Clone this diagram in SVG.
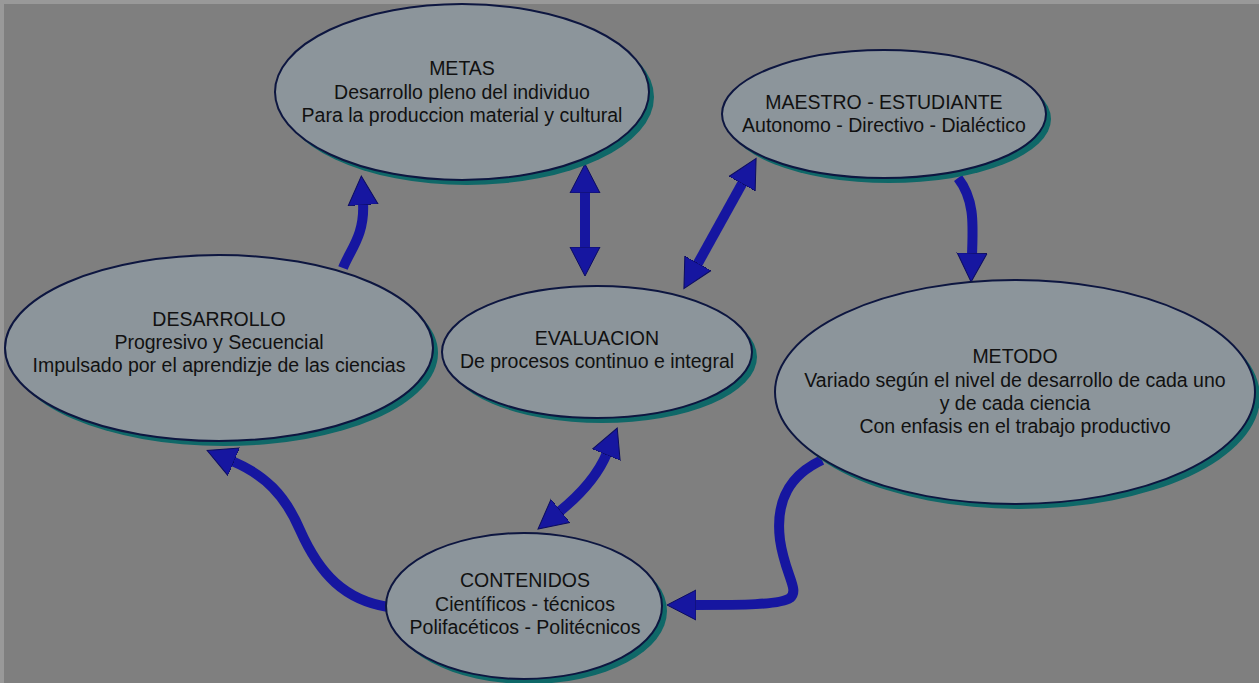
<svg xmlns="http://www.w3.org/2000/svg" width="1259" height="683" viewBox="0 0 1259 683">
<defs>
<style>
.bg{fill:#7f7f7f}
.sh{fill:#0f6868}
.el{fill:#8c959b;stroke:#0d1640;stroke-width:2}
.t{font-family:"Liberation Sans",Arial,sans-serif;font-size:19.5px;fill:#111;text-anchor:middle}
.c{fill:none;stroke:#1616a0;stroke-width:10;stroke-linecap:butt}
</style>
<marker id="ah" markerUnits="userSpaceOnUse" markerWidth="32" markerHeight="32" viewBox="0 0 32 32" refX="2" refY="16" orient="auto-start-reverse">
<path d="M0,1 L29,16 L0,31 Z" fill="#1616a0" stroke="#0c0c60" stroke-width="1"/>
</marker>
</defs>
<rect class="bg" x="0" y="0" width="1259" height="683"/>
<rect x="0" y="0" width="1259" height="4" fill="#999"/>
<rect x="0" y="0" width="4" height="683" fill="#999"/>

<g id="connectors">
<path class="c" d="M343,268 C350,250 365,235 363,203" marker-end="url(#ah)"/>
<path class="c" d="M585,191 L585,249" marker-start="url(#ah)" marker-end="url(#ah)"/>
<path class="c" d="M697,265 L743,182" marker-start="url(#ah)" marker-end="url(#ah)"/>
<path class="c" d="M958,178 C975,200 973,225 972,255" marker-end="url(#ah)"/>
<path class="c" d="M822,460 C790,475 775,500 780,540 C785,575 800,590 790,598 C780,605 740,605 694,605" marker-end="url(#ah)"/>
<path class="c" d="M388,607 C345,600 320,575 300,530 C285,495 265,475 232,461" marker-end="url(#ah)"/>
<path class="c" d="M559,512 C580,495 598,475 607,453" marker-start="url(#ah)" marker-end="url(#ah)"/>
</g>

<g id="metas">
<ellipse class="sh" cx="467" cy="97" rx="187" ry="88"/>
<ellipse class="el" cx="462" cy="92" rx="187" ry="88"/>
<text class="t" x="462" y="75">METAS</text>
<text class="t" x="462" y="99">Desarrollo pleno del individuo</text>
<text class="t" x="462" y="122">Para la produccion material y cultural</text>
</g>

<g id="maestro">
<ellipse class="sh" cx="889" cy="119" rx="162" ry="64"/>
<ellipse class="el" cx="884" cy="114" rx="162" ry="64"/>
<text class="t" x="884" y="109">MAESTRO - ESTUDIANTE</text>
<text class="t" x="884" y="132">Autonomo - Directivo - Dialéctico</text>
</g>

<g id="desarrollo">
<ellipse class="sh" cx="224" cy="353" rx="214" ry="93"/>
<ellipse class="el" cx="219" cy="348" rx="214" ry="93"/>
<text class="t" x="219" y="326">DESARROLLO</text>
<text class="t" x="219" y="349">Progresivo y Secuencial</text>
<text class="t" x="219" y="372">Impulsado por el aprendizje de las ciencias</text>
</g>

<g id="evaluacion">
<ellipse class="sh" cx="602" cy="357" rx="155" ry="66"/>
<ellipse class="el" cx="597" cy="352" rx="155" ry="66"/>
<text class="t" x="597" y="345">EVALUACION</text>
<text class="t" x="597" y="368">De procesos continuo e integral</text>
</g>

<g id="metodo">
<ellipse class="sh" cx="1020" cy="397" rx="240" ry="112"/>
<ellipse class="el" cx="1015" cy="392" rx="240" ry="112"/>
<text class="t" x="1015" y="363">METODO</text>
<text class="t" x="1015" y="387">Variado según el nivel de desarrollo de cada uno</text>
<text class="t" x="1015" y="410">y de cada ciencia</text>
<text class="t" x="1015" y="433">Con enfasis en el trabajo productivo</text>
</g>

<g id="contenidos">
<ellipse class="sh" cx="529" cy="611" rx="138" ry="73"/>
<ellipse class="el" cx="524" cy="606" rx="138" ry="73"/>
<text class="t" x="525" y="587">CONTENIDOS</text>
<text class="t" x="525" y="611">Científicos - técnicos</text>
<text class="t" x="525" y="634">Polifacéticos - Politécnicos</text>
</g>
</svg>
